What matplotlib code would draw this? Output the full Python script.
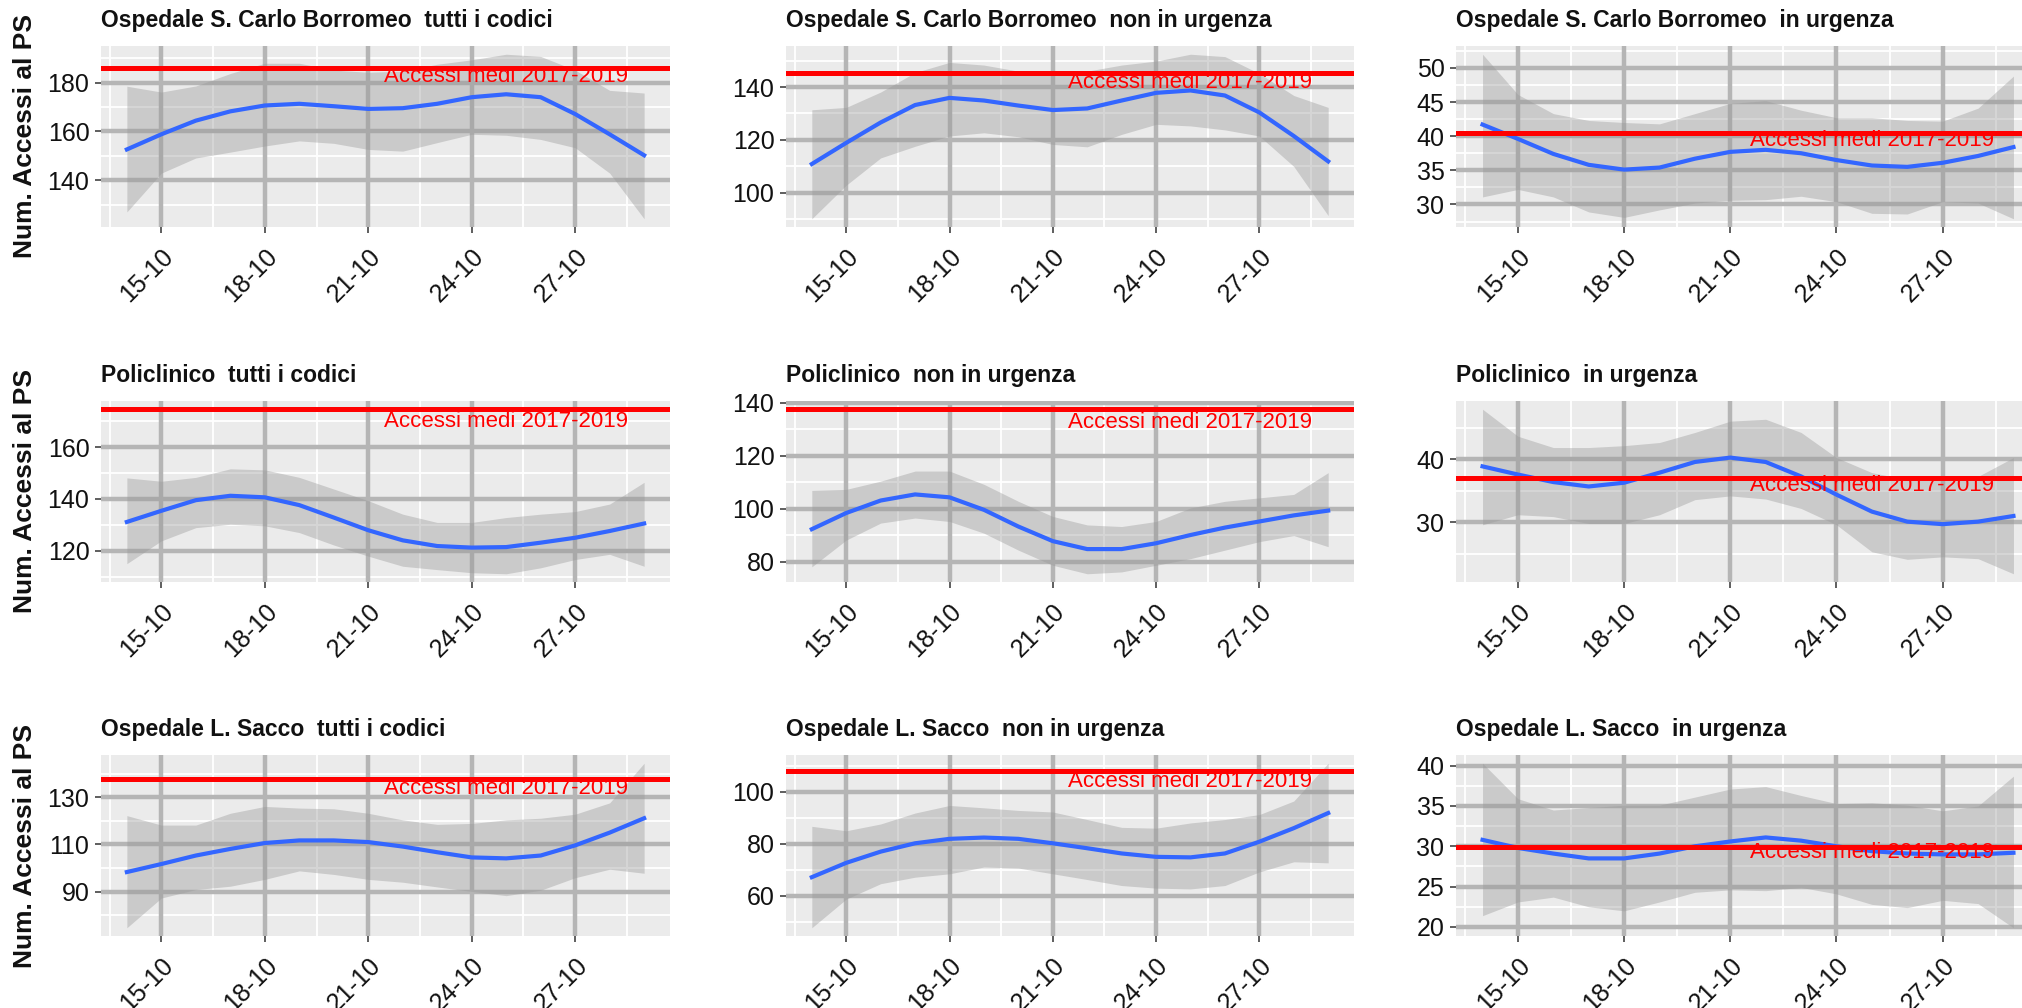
#!/usr/bin/env python3
"""Accessi al PS, ottobre: smooth loess + banda di confidenza per ospedale e codice."""

import matplotlib

matplotlib.use("Agg")
import matplotlib.dates as mdates  # noqa: E402
import matplotlib.pyplot as plt  # noqa: E402
import numpy as np  # noqa: E402
import pandas as pd  # noqa: E402
from matplotlib.ticker import FixedLocator  # noqa: E402

# --- dati ---------------------------------------------------------------
DAYS = pd.date_range("2020-10-14", "2020-10-29", freq="D")
X_TICKS = pd.to_datetime(["2020-10-15", "2020-10-18", "2020-10-21", "2020-10-24", "2020-10-27"])
LABEL_DAY = pd.Timestamp("2020-10-25")
LABEL_TEXT = "Accessi medi 2017-2019"

HOSPITALS = ["Ospedale S. Carlo Borromeo", "Policlinico", "Ospedale L. Sacco"]
CODES = ["tutti i codici", "non in urgenza", "in urgenza"]

CARLO_TUTTI_FIT = [152.6, 158.8, 164.4, 168.2, 170.6, 171.3, 170.3, 169.2, 169.5, 171.3, 174.0, 175.2, 174.0, 167.1, 158.8, 150.2]
CARLO_TUTTI_LO = [127.0, 142.9, 149.1, 151.5, 154.0, 156.1, 155.1, 152.6, 151.9, 155.4, 158.8, 158.4, 156.7, 153.3, 142.9, 124.2]
CARLO_TUTTI_HI = [178.5, 176.1, 178.6, 183.7, 187.9, 187.9, 185.1, 184.2, 184.7, 187.5, 189.3, 191.6, 190.7, 185.1, 176.8, 175.7]

CARLO_NON_FIT = [110.9, 118.9, 126.6, 133.2, 135.9, 134.9, 133.0, 131.3, 131.9, 134.9, 137.8, 138.7, 136.8, 130.4, 121.5, 111.9]
CARLO_NON_LO = [90.2, 102.9, 113.2, 117.6, 121.5, 122.7, 121.2, 118.3, 117.4, 122.1, 125.9, 125.3, 123.8, 121.5, 110.0, 91.4]
CARLO_NON_HI = [131.4, 132.3, 138.1, 145.5, 149.3, 148.3, 146.0, 145.5, 146.0, 148.3, 149.8, 152.4, 151.5, 145.1, 136.8, 132.3]

CARLO_URG_FIT = [41.7, 39.6, 37.4, 35.8, 35.1, 35.4, 36.7, 37.7, 38.0, 37.5, 36.5, 35.7, 35.5, 36.1, 37.1, 38.4]
CARLO_URG_LO = [31.1, 32.2, 31.1, 28.9, 28.1, 29.2, 30.2, 30.6, 30.7, 31.2, 30.4, 28.7, 28.6, 30.4, 30.2, 27.9]
CARLO_URG_HI = [52.0, 46.1, 43.3, 42.3, 42.0, 41.8, 43.3, 44.8, 45.2, 43.8, 42.7, 42.7, 42.3, 42.2, 44.1, 48.8]

POLI_TUTTI_FIT = [131.1, 135.4, 139.5, 141.2, 140.6, 137.6, 132.8, 127.9, 124.0, 121.8, 121.2, 121.4, 123.1, 125.0, 127.6, 130.5]
POLI_TUTTI_LO = [115.0, 123.8, 128.9, 130.2, 129.6, 127.0, 122.2, 117.9, 114.0, 112.7, 111.5, 111.1, 113.4, 116.6, 118.6, 114.0]
POLI_TUTTI_HI = [148.1, 146.8, 148.3, 151.6, 151.2, 148.3, 143.8, 139.3, 134.1, 130.9, 130.9, 132.8, 134.1, 135.1, 138.0, 146.4]

POLI_NON_FIT = [92.3, 98.4, 103.1, 105.4, 104.3, 99.6, 93.3, 87.8, 84.8, 84.8, 87.0, 90.1, 92.9, 95.2, 97.5, 99.3]
POLI_NON_LO = [78.1, 88.2, 94.6, 96.5, 95.2, 90.8, 84.4, 78.7, 75.5, 76.2, 78.7, 81.2, 84.4, 87.6, 89.9, 85.7]
POLI_NON_HI = [106.9, 107.3, 110.4, 114.2, 114.2, 109.2, 102.8, 97.1, 93.9, 93.3, 95.2, 100.3, 102.8, 104.1, 105.4, 113.6]

POLI_URG_FIT = [38.9, 37.6, 36.4, 35.7, 36.3, 37.9, 39.6, 40.3, 39.6, 37.3, 34.4, 31.7, 30.1, 29.7, 30.1, 31.0]
POLI_URG_LO = [29.6, 31.2, 30.9, 29.8, 29.8, 31.2, 33.6, 34.2, 33.7, 32.2, 29.6, 25.3, 24.1, 24.5, 24.2, 21.8]
POLI_URG_HI = [48.0, 43.7, 41.9, 41.9, 42.2, 42.7, 44.3, 46.1, 46.4, 44.3, 40.3, 37.9, 36.8, 37.1, 37.3, 40.3]

SACCO_TUTTI_FIT = [98.3, 101.7, 105.3, 108.1, 110.6, 111.7, 111.7, 111.0, 109.1, 106.7, 104.5, 104.1, 105.3, 109.6, 115.0, 121.1]
SACCO_TUTTI_LO = [74.7, 87.3, 90.9, 92.3, 95.2, 98.8, 97.3, 95.2, 94.0, 92.0, 90.1, 88.3, 90.6, 95.9, 99.5, 97.8]
SACCO_TUTTI_HI = [122.2, 118.2, 118.2, 123.2, 126.1, 125.4, 125.1, 123.2, 120.4, 118.5, 118.9, 120.4, 121.1, 122.8, 127.6, 144.4]

SACCO_NON_FIT = [67.2, 72.7, 77.0, 80.2, 81.9, 82.4, 81.9, 80.2, 78.3, 76.3, 75.0, 74.8, 76.3, 80.8, 86.0, 91.8]
SACCO_NON_LO = [47.8, 58.8, 64.7, 67.2, 68.5, 71.1, 70.7, 68.5, 66.3, 64.0, 63.0, 62.7, 64.0, 69.2, 73.1, 72.7]
SACCO_NON_HI = [86.7, 85.0, 87.6, 91.8, 94.7, 93.8, 92.8, 92.2, 89.3, 86.3, 86.0, 88.0, 89.3, 91.2, 96.4, 110.9]

SACCO_URG_FIT = [30.8, 29.8, 29.1, 28.5, 28.5, 29.1, 30.0, 30.6, 31.1, 30.7, 30.0, 29.4, 29.1, 29.0, 29.0, 29.2]
SACCO_URG_LO = [21.4, 23.1, 23.7, 22.5, 22.0, 23.1, 24.3, 24.6, 24.5, 24.9, 24.1, 22.8, 22.4, 23.3, 22.9, 19.9]
SACCO_URG_HI = [40.3, 35.9, 34.5, 34.8, 35.1, 35.1, 36.1, 37.1, 37.4, 36.3, 35.3, 35.4, 35.1, 34.4, 35.0, 38.7]

# media accessi 2017-2019 (linea rossa) e quota dell'etichetta, per pannello
MEAN_2017_2019 = [185.8, 145.2, 40.4, 174.6, 137.5, 37.1, 137.9, 107.8, 29.9]
LABEL_Y = [182.4, 141.9, 39.4, 169.7, 132.6, 35.9, 133.7, 103.9, 29.2]

Y_TICKS = [
    [140, 160, 180], [100, 120, 140], [30, 35, 40, 45, 50],
    [120, 140, 160], [80, 100, 120, 140], [30, 40],
    [90, 110, 130], [60, 80, 100], [20, 25, 30, 35, 40],
]

PANELS = [
    (CARLO_TUTTI_FIT, CARLO_TUTTI_LO, CARLO_TUTTI_HI),
    (CARLO_NON_FIT, CARLO_NON_LO, CARLO_NON_HI),
    (CARLO_URG_FIT, CARLO_URG_LO, CARLO_URG_HI),
    (POLI_TUTTI_FIT, POLI_TUTTI_LO, POLI_TUTTI_HI),
    (POLI_NON_FIT, POLI_NON_LO, POLI_NON_HI),
    (POLI_URG_FIT, POLI_URG_LO, POLI_URG_HI),
    (SACCO_TUTTI_FIT, SACCO_TUTTI_LO, SACCO_TUTTI_HI),
    (SACCO_NON_FIT, SACCO_NON_LO, SACCO_NON_HI),
    (SACCO_URG_FIT, SACCO_URG_LO, SACCO_URG_HI),
]

# --- layout (pixel, figura 2022x1008) ------------------------------------
FIG_W, FIG_H, DPI = 2022, 1008, 100
COLS_PX = [(101, 670), (786, 1354), (1456, 2040)]
ROWS_PX = [(46, 227), (401, 582), (755, 936)]

BG = "#EBEBEB"
GRID_MAJOR = "#B5B5B5"
RIBBON = "#999999"
BLUE = "#3366FF"
TEXT_COL = "#111111"


def expand(lo: float, hi: float, frac: float = 0.05) -> tuple[float, float]:
    pad = (hi - lo) * frac
    return lo - pad, hi + pad


def draw_panel(ax, idx: int) -> None:
    fit, lo, hi = (np.asarray(a) for a in PANELS[idx])
    x = mdates.date2num(DAYS)
    mean = MEAN_2017_2019[idx]

    ax.set_facecolor(BG)
    ax.set_axisbelow(True)
    for s in ax.spines.values():
        s.set_visible(False)

    # limiti come ggplot: dati + hline, espansione 5%
    ax.set_xlim(*expand(x.min(), x.max()))
    ax.set_ylim(*expand(min(lo.min(), mean), max(hi.max(), mean)))

    xt = mdates.date2num(X_TICKS)
    x_minor = list(xt - 1.5) + [xt[-1] + 1.5]
    yt = Y_TICKS[idx]
    step = yt[1] - yt[0]
    y_minor = [t - step / 2 for t in yt] + [yt[-1] + step / 2]

    # griglia minore bianca sotto la maggiore
    for v in x_minor:
        ax.axvline(v, color="white", lw=1.3, zorder=0.3)
    for v in y_minor:
        ax.axhline(v, color="white", lw=1.3, zorder=0.3)

    ax.xaxis.set_major_locator(FixedLocator(xt))
    ax.xaxis.set_major_formatter(mdates.DateFormatter("%d-%m"))
    ax.yaxis.set_major_locator(FixedLocator(yt))
    ax.grid(which="major", color=GRID_MAJOR, lw=3.2)

    ax.fill_between(x, lo, hi, color=RIBBON, alpha=0.4, lw=0, zorder=2)
    ax.plot(x, fit, color=BLUE, lw=3.0, zorder=3, solid_joinstyle="round")
    ax.axhline(mean, color="#FF0000", lw=3.6, zorder=4)
    ax.text(mdates.date2num(LABEL_DAY), LABEL_Y[idx], LABEL_TEXT, color="#FF0000",
            ha="center", va="center", fontsize=16, zorder=5)

    ax.tick_params(which="major", length=4.3, width=1.1, color="#333333",
                   labelsize=18, labelcolor=TEXT_COL)
    ax.tick_params(axis="y", pad=4.0)
    ax.tick_params(axis="x", pad=8.0)
    plt.setp(ax.get_xticklabels(), rotation=45, ha="right", va="top", rotation_mode="anchor")

    hosp = HOSPITALS[idx // 3]
    code = CODES[idx % 3]
    ax.set_title(f"{hosp}  {code}", loc="left", fontsize=16.5, fontweight="bold",
                 color=TEXT_COL, pad=13.5)


def main() -> None:
    plt.rcParams["font.family"] = ["Liberation Sans", "DejaVu Sans"]
    fig = plt.figure(figsize=(FIG_W / DPI, FIG_H / DPI), dpi=DPI)

    for r, (top, bottom) in enumerate(ROWS_PX):
        for c, (left, right) in enumerate(COLS_PX):
            rect = [left / FIG_W, 1 - bottom / FIG_H, (right - left) / FIG_W, (bottom - top) / FIG_H]
            ax = fig.add_axes(rect)
            draw_panel(ax, r * 3 + c)
        fig.text(25 / FIG_W, 1 - (top + bottom) / 2 / FIG_H, "Num. Accessi al PS",
                 rotation=90, ha="center", va="center", fontsize=19,
                 fontweight="bold", color=TEXT_COL)

    fig.savefig("out.png", dpi=DPI)


if __name__ == "__main__":
    main()
